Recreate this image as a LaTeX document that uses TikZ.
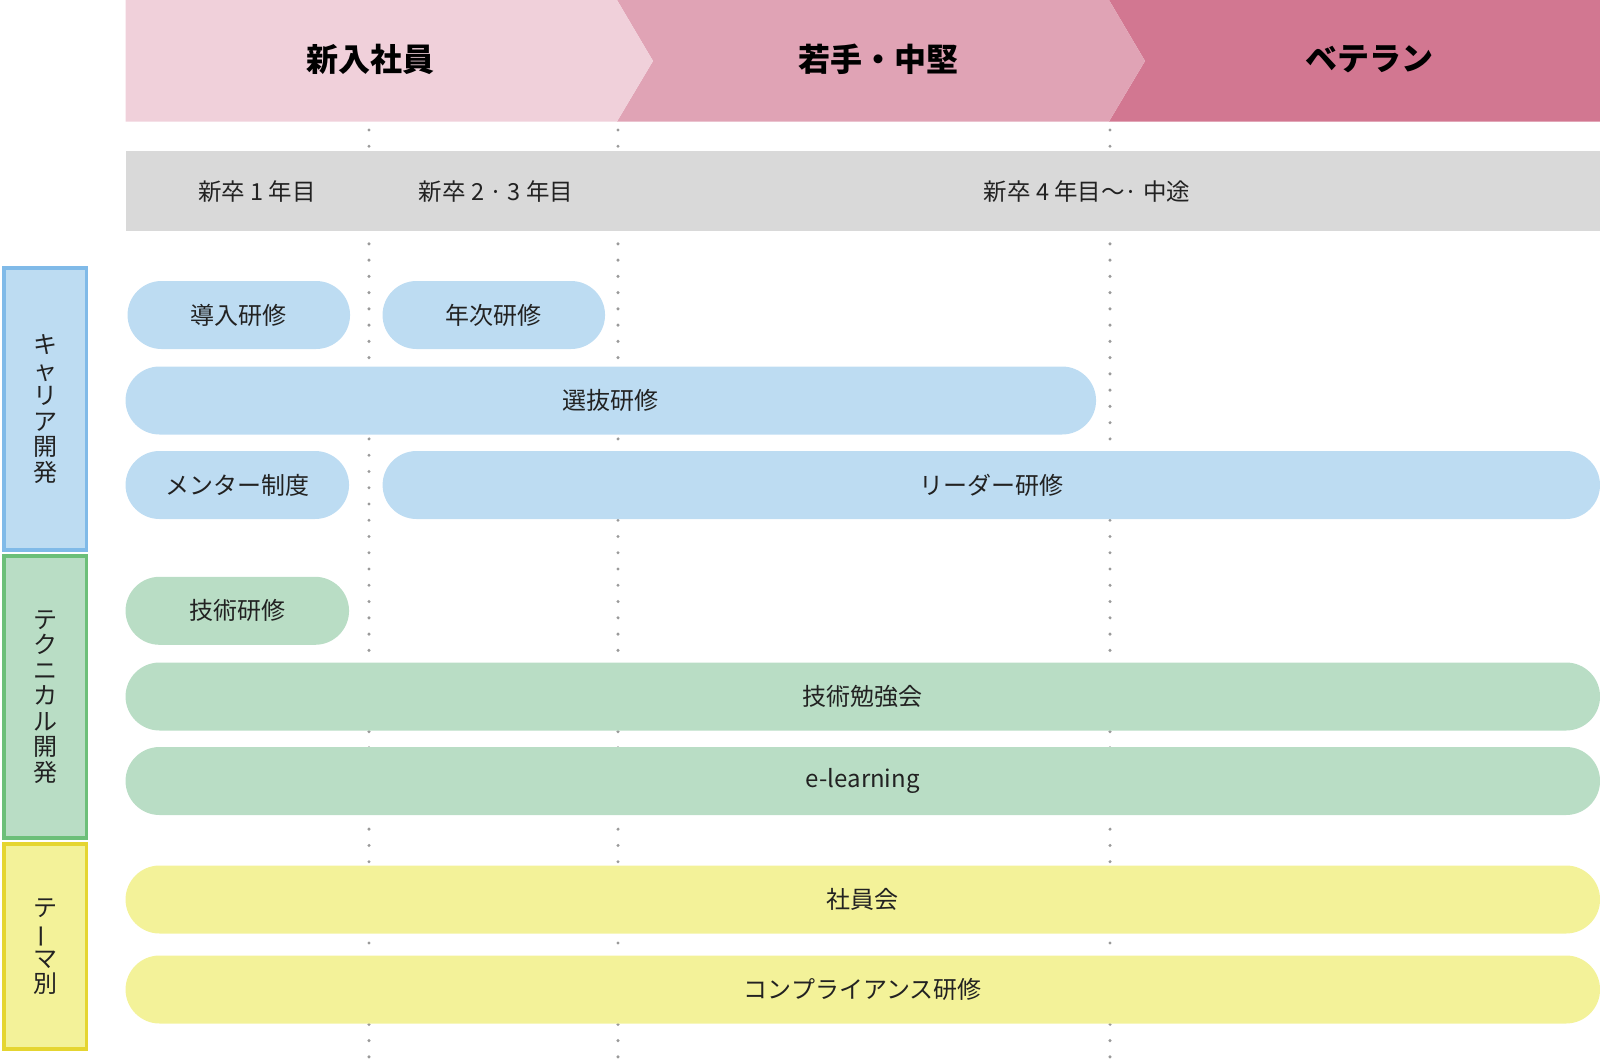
\documentclass[tikz,border=0pt]{standalone}
\usepackage{fontspec}
\setmainfont{Noto Sans CJK JP}
\definecolor{pinkA}{HTML}{F0D0DA}
\definecolor{pinkB}{HTML}{E0A3B5}
\definecolor{pinkC}{HTML}{D27791}
\definecolor{bandgray}{HTML}{D9D9D9}
\definecolor{pillblue}{HTML}{BDDCF2}
\definecolor{edgeblue}{HTML}{80BAE8}
\definecolor{pillgreen}{HTML}{B9DDC5}
\definecolor{edgegreen}{HTML}{6CBF79}
\definecolor{pillyellow}{HTML}{F3F299}
\definecolor{edgeyellow}{HTML}{E5D530}
\definecolor{dotgray}{HTML}{9A9A9A}
\definecolor{inkc}{HTML}{222222}
\tikzset{
  headtxt/.style={text=black, font=\fontsize{32}{32}\selectfont\bfseries, inner sep=0pt},
  bandtxt/.style={text=inkc, font=\fontsize{23.5}{23.5}\selectfont, inner sep=0pt},
  pillbase/.style={rectangle, rounded corners=34pt, minimum height=68pt, inner sep=0pt,
    text=inkc, font=\fontsize{24}{24}\selectfont},
  bluepill/.style={pillbase, fill=pillblue},
  greenpill/.style={pillbase, fill=pillgreen},
  yellowpill/.style={pillbase, fill=pillyellow},
  catbox/.style={rectangle, line width=3.5pt, minimum width=82.5pt, inner sep=0pt,
    text=inkc, font=\fontsize{24}{25.5}\selectfont, align=center},
  dotline/.style={draw=dotgray, line width=3.4pt, line cap=round, dash pattern=on 0pt off 16.26pt},
}
\begin{document}
\begin{tikzpicture}[x=1pt,y=-1pt]
\useasboundingbox (0,0) rectangle (1600,1060);
% dotted separators
\foreach \xx/\nm in {369/da,618/db,1110/dc}{
  \coordinate (\nm top) at (\xx,130);
  \coordinate (\nm bot) at (\xx,1060);
  \draw[dotline] (\nm top) -- (\nm bot);
}
% header chevrons
\fill[pinkC] (1109,0) -- (1600,0) -- (1600,121.5) -- (1109,121.5) -- (1145,61) -- cycle;
\fill[pinkB] (617,0) -- (1109,0) -- (1145,61) -- (1109,121.5) -- (617,121.5) -- (653,61) -- cycle;
\fill[pinkA] (125.5,0) -- (617,0) -- (653,61) -- (617,121.5) -- (125.5,121.5) -- cycle;
\node[headtxt] (h1) at (370,59) {新入社員};
\node[headtxt] (h2) at (878,59) {若手・中堅};
\node[headtxt] (h3) at (1369,59) {ベテラン};
% gray band
\fill[bandgray] (125.5,151) rectangle (1600,231);
\node[bandtxt] (y1) at (257,192) {新卒 1 年目};
\node[bandtxt] (y2) at (496,192) {新卒 2 · 3 年目};
\node[bandtxt] (y3) at (1087,192) {新卒 4 年目〜· 中途};
% category boxes
\node[catbox, draw=edgeblue, fill=pillblue, minimum height=282pt] (c1) at (45,409) {キ\\ャ\\リ\\ア\\開\\発};
\node[catbox, draw=edgegreen, fill=pillgreen, minimum height=282pt] (c2) at (45,697) {テ\\ク\\ニ\\カ\\ル\\開\\発};
\node[catbox, draw=edgeyellow, fill=pillyellow, minimum height=205pt] (c3) at (45,946.5) {テ\\\rotatebox[origin=c]{90}{ー}\\マ\\別};
% pills
\node[bluepill, minimum width=222.5pt] (p1) at (238.8,315) {導入研修};
\node[bluepill, minimum width=222.5pt] (p2) at (493.8,315) {年次研修};
\node[bluepill, minimum width=970.5pt] (p3) at (610.8,400.5) {選抜研修};
\node[bluepill, minimum width=223.5pt] (p4) at (237.3,485) {メンター制度};
\node[bluepill, minimum width=1217.4pt] (p5) at (991.3,485) {リーダー研修};
\node[greenpill, minimum width=223.5pt] (p6) at (237.3,610.8) {技術研修};
\node[greenpill, minimum width=1474.5pt] (p7) at (862.8,696.5) {技術勉強会};
\node[greenpill, minimum width=1474.5pt] (p8) at (862.8,781) {e-learning};
\node[yellowpill, minimum width=1474.5pt] (p9) at (862.8,899.5) {社員会};
\node[yellowpill, minimum width=1474.5pt] (p10) at (862.8,989.5) {コンプライアンス研修};
\end{tikzpicture}
\end{document}
